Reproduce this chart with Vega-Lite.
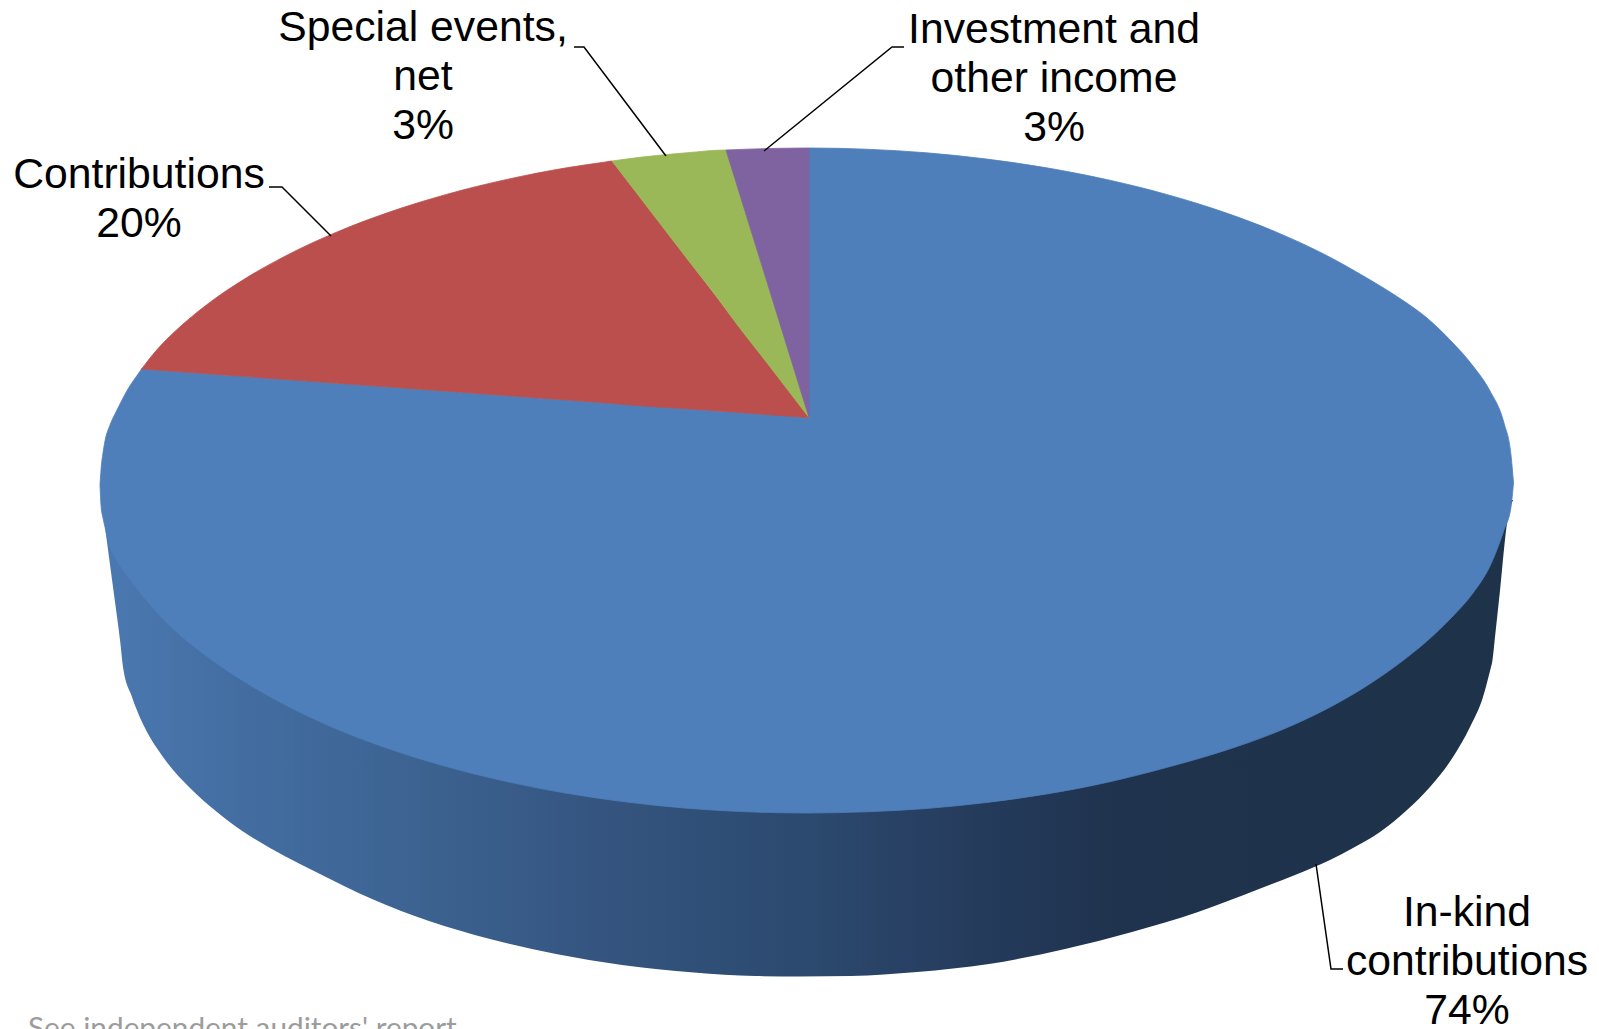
{
"$schema":"https://vega.github.io/schema/vega-lite/v6.json",
"width":1599,"height":1029,"autosize":{"type":"none"},"padding":0,"background":"white",
"view":{"stroke":null},
"datasets":{
"wall":[
{"x":105,"top":500,"base":527},{"x":113,"top":500,"base":587},{"x":119,"top":500,"base":632},{"x":120,"top":500,"base":640},{"x":123,"top":500,"base":667},{"x":132,"top":500,"base":697},{"x":145,"top":500,"base":728},{"x":163,"top":500,"base":757},{"x":190,"top":500,"base":788},{"x":217,"top":500,"base":812},{"x":243,"top":500,"base":831.5},{"x":270,"top":500,"base":848},{"x":300,"top":500,"base":864},{"x":316,"top":500,"base":872},{"x":372,"top":500,"base":899},{"x":429,"top":500,"base":921},{"x":490,"top":500,"base":939},{"x":556,"top":500,"base":954},{"x":622,"top":500,"base":965},{"x":694,"top":500,"base":972.5},{"x":755,"top":500,"base":976},{"x":800,"top":500,"base":976.5},{"x":851,"top":500,"base":976},{"x":917,"top":500,"base":972},{"x":989,"top":500,"base":964},{"x":1065,"top":500,"base":949},{"x":1132,"top":500,"base":932},{"x":1198,"top":500,"base":912},{"x":1259,"top":500,"base":889},{"x":1295,"top":500,"base":875},{"x":1330,"top":500,"base":860},{"x":1353,"top":500,"base":848},{"x":1380,"top":500,"base":832},{"x":1407,"top":500,"base":810},{"x":1430,"top":500,"base":787},{"x":1453,"top":500,"base":757},{"x":1470,"top":500,"base":727},{"x":1483,"top":500,"base":697},{"x":1491,"top":500,"base":667},{"x":1492,"top":500,"base":663},{"x":1495,"top":500,"base":637},{"x":1499,"top":500,"base":600},{"x":1508,"top":500,"base":517},{"x":1511,"top":500,"base":505},{"x":1513,"top":500,"base":500}
],
"slices":[
{"slice":"In-kind contributions","x":100,"up":485,"lo":485},{"slice":"In-kind contributions","x":101,"up":470,"lo":505},{"slice":"In-kind contributions","x":103,"up":453,"lo":518},{"slice":"In-kind contributions","x":105,"up":441,"lo":527},{"slice":"In-kind contributions","x":110,"up":425,"lo":547},{"slice":"In-kind contributions","x":116.5,"up":411,"lo":560},{"slice":"In-kind contributions","x":122,"up":400,"lo":568.5},{"slice":"In-kind contributions","x":126.5,"up":391.5,"lo":575},{"slice":"In-kind contributions","x":140.5,"up":370.5,"lo":593.5},{"slice":"In-kind contributions","x":141.5,"up":369,"lo":595},{"slice":"In-kind contributions","x":142.5,"up":369.1,"lo":596},{"slice":"In-kind contributions","x":156.5,"up":370.1,"lo":612},{"slice":"In-kind contributions","x":176.5,"up":371.5,"lo":632},{"slice":"In-kind contributions","x":206.5,"up":373.7,"lo":656},{"slice":"In-kind contributions","x":246.5,"up":376.6,"lo":683},{"slice":"In-kind contributions","x":286.5,"up":379.6,"lo":705.5},{"slice":"In-kind contributions","x":336.5,"up":383.2,"lo":729},{"slice":"In-kind contributions","x":386.5,"up":386.8,"lo":747.9},{"slice":"In-kind contributions","x":446.5,"up":391.2,"lo":766.6},{"slice":"In-kind contributions","x":506.5,"up":395.6,"lo":781.5},{"slice":"In-kind contributions","x":566.5,"up":400,"lo":793.2},{"slice":"In-kind contributions","x":626.5,"up":404.3,"lo":802},{"slice":"In-kind contributions","x":686.5,"up":408.7,"lo":808.2},{"slice":"In-kind contributions","x":746.5,"up":413,"lo":811.8},{"slice":"In-kind contributions","x":806.5,"up":417.4,"lo":813},{"slice":"In-kind contributions","x":809,"up":417.6,"lo":813},{"slice":"In-kind contributions","x":809.01,"up":148,"lo":813},{"slice":"In-kind contributions","x":866.5,"up":149.2,"lo":811.8},{"slice":"In-kind contributions","x":926.5,"up":152.8,"lo":808.5},{"slice":"In-kind contributions","x":986.5,"up":159,"lo":802.5},{"slice":"In-kind contributions","x":1046.5,"up":167.8,"lo":794},{"slice":"In-kind contributions","x":1106.5,"up":179.5,"lo":782.5},{"slice":"In-kind contributions","x":1166.5,"up":194.4,"lo":767.5},{"slice":"In-kind contributions","x":1226.5,"up":213.1,"lo":750},{"slice":"In-kind contributions","x":1276.5,"up":232.2,"lo":732},{"slice":"In-kind contributions","x":1326.5,"up":255.4,"lo":709},{"slice":"In-kind contributions","x":1366.5,"up":277.8,"lo":686},{"slice":"In-kind contributions","x":1403,"up":300.5,"lo":660.5},{"slice":"In-kind contributions","x":1427,"up":318,"lo":641},{"slice":"In-kind contributions","x":1452,"up":342,"lo":617},{"slice":"In-kind contributions","x":1473,"up":366,"lo":593},{"slice":"In-kind contributions","x":1490,"up":391,"lo":566},{"slice":"In-kind contributions","x":1504,"up":423,"lo":530},{"slice":"In-kind contributions","x":1511,"up":455,"lo":507},{"slice":"In-kind contributions","x":1513.5,"up":483,"lo":483},
{"slice":"Contributions","x":141.5,"up":369,"lo":369},{"slice":"Contributions","x":156.5,"up":350.2,"lo":370.1},{"slice":"Contributions","x":176.5,"up":330,"lo":371.5},{"slice":"Contributions","x":206.5,"up":304.9,"lo":373.7},{"slice":"Contributions","x":246.5,"up":277.8,"lo":376.6},{"slice":"Contributions","x":286.5,"up":255.4,"lo":379.6},{"slice":"Contributions","x":336.5,"up":232.2,"lo":383.2},{"slice":"Contributions","x":386.5,"up":213.1,"lo":386.8},{"slice":"Contributions","x":446.5,"up":194.4,"lo":391.2},{"slice":"Contributions","x":506.5,"up":179.5,"lo":395.6},{"slice":"Contributions","x":566.5,"up":167.8,"lo":400},{"slice":"Contributions","x":606,"up":161.9,"lo":402.9},{"slice":"Contributions","x":612,"up":161,"lo":403.3},{"slice":"Contributions","x":613,"up":162.3,"lo":403.4},{"slice":"Contributions","x":700,"up":275.6,"lo":409.7},{"slice":"Contributions","x":809,"up":417.6,"lo":417.6},
{"slice":"Special events, net","x":612,"up":161,"lo":161},{"slice":"Special events, net","x":626.5,"up":159,"lo":179.9},{"slice":"Special events, net","x":686.5,"up":152.8,"lo":258},{"slice":"Special events, net","x":726,"up":150,"lo":309.5},{"slice":"Special events, net","x":726.5,"up":151.6,"lo":310.2},{"slice":"Special events, net","x":770,"up":291.9,"lo":366.8},{"slice":"Special events, net","x":809,"up":417.6,"lo":417.6},
{"slice":"Investment and other income","x":726,"up":150,"lo":150},{"slice":"Investment and other income","x":746.5,"up":149.2,"lo":216},{"slice":"Investment and other income","x":806.5,"up":148,"lo":409.5},{"slice":"Investment and other income","x":809,"up":148,"lo":417.6}
],
"leaders":[
{"label":"Special events","x":574,"y":47,"o":0},{"label":"Special events","x":584,"y":47,"o":1},{"label":"Special events","x":666,"y":156,"o":2},
{"label":"Contributions","x":269,"y":187,"o":0},{"label":"Contributions","x":282,"y":187,"o":1},{"label":"Contributions","x":331,"y":236,"o":2},
{"label":"Investment","x":904,"y":47,"o":0},{"label":"Investment","x":892,"y":47,"o":1},{"label":"Investment","x":764,"y":151,"o":2},
{"label":"In-kind","x":1316,"y":864,"o":0},{"label":"In-kind","x":1331,"y":969,"o":1},{"label":"In-kind","x":1343,"y":969,"o":2}
],
"labels":[
{"text":"Special events,","x":423,"y":41},{"text":"net","x":423,"y":90},{"text":"3%","x":423,"y":139},
{"text":"Contributions","x":139,"y":188},{"text":"20%","x":139,"y":237},
{"text":"Investment and","x":1054,"y":43},{"text":"other income","x":1054,"y":92},{"text":"3%","x":1054,"y":141},
{"text":"In-kind","x":1467,"y":926},{"text":"contributions","x":1467,"y":975},{"text":"74%","x":1467,"y":1024}
],
"note":[{"text":"See independent auditors' report","x":28,"y":1038}]
},
"layer":[
{"data":{"name":"wall"},
 "mark":{"type":"area","interpolate":"monotone","fill":{"gradient":"linear","x1":0,"x2":1,"y1":0,"y2":0,"stops":[{"offset":0,"color":"#4a78b0"},{"offset":0.1,"color":"#436da1"},{"offset":0.22,"color":"#3c6391"},{"offset":0.35,"color":"#355580"},{"offset":0.49,"color":"#2c4a70"},{"offset":0.62,"color":"#253b5c"},{"offset":0.72,"color":"#1f334e"},{"offset":1,"color":"#1e3249"}]}},
 "encoding":{
  "x":{"field":"x","type":"quantitative","scale":{"domain":[0,1599],"nice":false,"zero":false},"axis":null},
  "y":{"field":"top","type":"quantitative","scale":{"domain":[0,1029],"nice":false,"zero":false,"reverse":true},"axis":null},
  "y2":{"field":"base"}
 }},
{"data":{"name":"slices"},
 "mark":{"type":"area","interpolate":"monotone","strokeWidth":0.8},
 "encoding":{
  "x":{"field":"x","type":"quantitative","scale":{"domain":[0,1599],"nice":false,"zero":false},"axis":null},
  "y":{"field":"up","type":"quantitative","scale":{"domain":[0,1029],"nice":false,"zero":false,"reverse":true},"axis":null},
  "y2":{"field":"lo"},
  "color":{"field":"slice","type":"nominal","legend":null,"scale":{"domain":["In-kind contributions","Contributions","Special events, net","Investment and other income"],"range":["#4e7fba","#bb4f4d","#9ab858","#7f63a0"]}},
  "stroke":{"field":"slice","type":"nominal","legend":null,"scale":{"domain":["In-kind contributions","Contributions","Special events, net","Investment and other income"],"range":["#4e7fba","#bb4f4d","#9ab858","#7f63a0"]}}
 }},
{"data":{"name":"leaders"},
 "mark":{"type":"line","color":"black","strokeWidth":1.5},
 "encoding":{
  "x":{"field":"x","type":"quantitative","scale":{"domain":[0,1599],"nice":false,"zero":false},"axis":null},
  "y":{"field":"y","type":"quantitative","scale":{"domain":[0,1029],"nice":false,"zero":false,"reverse":true},"axis":null},
  "detail":{"field":"label"},
  "order":{"field":"o","type":"quantitative"}
 }},
{"data":{"name":"labels"},
 "mark":{"type":"text","font":"Liberation Sans","fontSize":42.7,"align":"center","baseline":"alphabetic","color":"black"},
 "encoding":{
  "x":{"field":"x","type":"quantitative","scale":{"domain":[0,1599],"nice":false,"zero":false},"axis":null},
  "y":{"field":"y","type":"quantitative","scale":{"domain":[0,1029],"nice":false,"zero":false,"reverse":true},"axis":null},
  "text":{"field":"text"}
 }},
{"data":{"name":"note"},
 "mark":{"type":"text","font":"Lato","fontSize":29.8,"align":"left","baseline":"alphabetic","color":"#9c9c9c"},
 "encoding":{
  "x":{"field":"x","type":"quantitative","scale":{"domain":[0,1599],"nice":false,"zero":false},"axis":null},
  "y":{"field":"y","type":"quantitative","scale":{"domain":[0,1029],"nice":false,"zero":false,"reverse":true},"axis":null},
  "text":{"field":"text"}
 }}
]
}
